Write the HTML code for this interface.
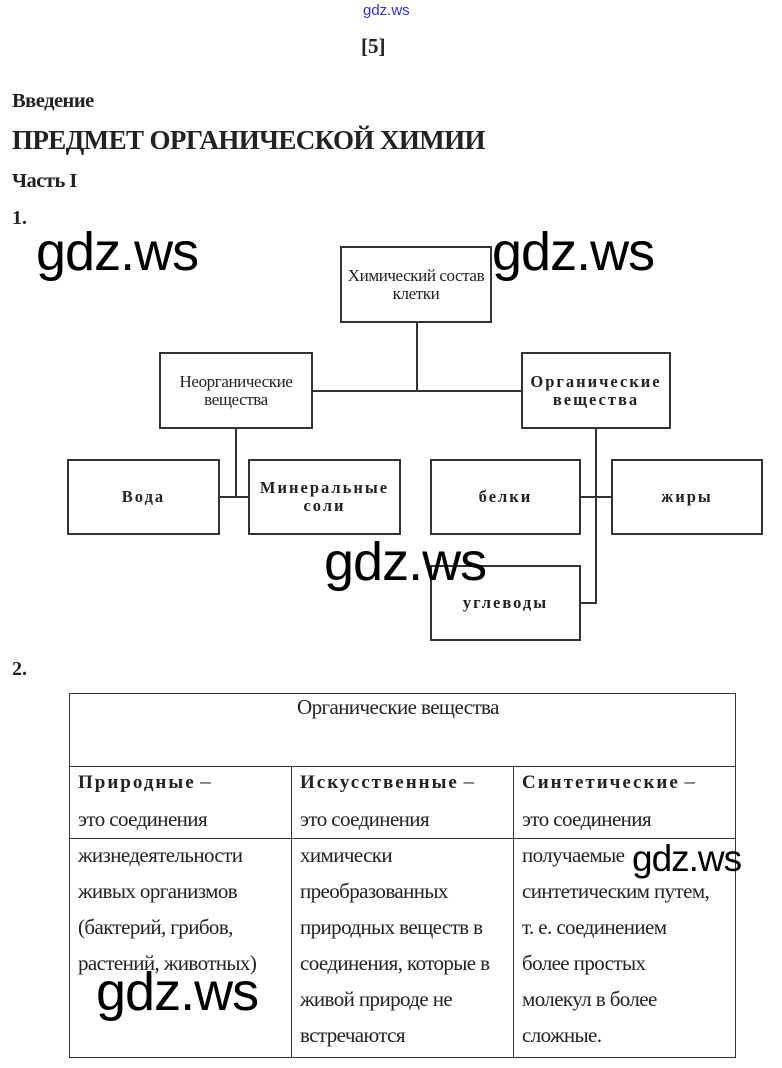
<!DOCTYPE html>
<html><head><meta charset="utf-8"><style>
body{margin:0;width:782px;height:1068px;background:#fff;position:relative;overflow:hidden;font-family:"Liberation Serif",serif;color:#222}
.a{position:absolute;white-space:nowrap}
.b{position:absolute;border:2px solid #333;box-sizing:border-box;display:flex;align-items:center;justify-content:center;text-align:center;font-size:17px;line-height:18px}
.sp{font-weight:bold;letter-spacing:2px;font-size:16.5px}
.l{position:absolute;background:#333}
.w{position:absolute;font-family:"Liberation Sans",sans-serif;font-size:54px;color:#000;line-height:1;letter-spacing:-1px}
.t{position:absolute;font-size:21px;line-height:36px;white-space:nowrap;letter-spacing:-0.6px}
</style></head><body>
<div class="a" style="left:363px;top:2px;font-family:'Liberation Sans',sans-serif;font-size:15px;color:#33c">gdz.ws</div>
<div class="a" style="left:361px;top:34px;font-size:21px;font-weight:bold">[5]</div>
<div class="a" style="left:12px;top:90px;font-size:20.5px;font-weight:bold;letter-spacing:-0.5px">Введение</div>
<div class="a" style="left:12px;top:125px;font-size:27px;font-weight:bold;letter-spacing:-0.6px">ПРЕДМЕТ ОРГАНИЧЕСКОЙ ХИМИИ</div>
<div class="a" style="left:12px;top:170px;font-size:20.5px;font-weight:bold;letter-spacing:-0.5px">Часть I</div>
<div class="a" style="left:12px;top:207px;font-size:20px;font-weight:bold">1.</div>

<div class="l" style="left:416px;top:322px;width:2px;height:70px"></div>
<div class="l" style="left:312px;top:390px;width:210px;height:2px"></div>
<div class="l" style="left:235px;top:428px;width:2px;height:70px"></div>
<div class="l" style="left:219px;top:496px;width:30px;height:2px"></div>
<div class="l" style="left:595px;top:428px;width:2px;height:176px"></div>
<div class="l" style="left:580px;top:496px;width:32px;height:2px"></div>
<div class="l" style="left:580px;top:602px;width:16px;height:2px"></div>

<div class="b" style="left:340px;top:246px;width:152px;height:77px;letter-spacing:-0.4px">Химический состав<br>клетки</div>
<div class="b" style="left:159px;top:352px;width:154px;height:77px;letter-spacing:-0.4px">Неорганические<br>вещества</div>
<div class="b sp" style="left:521px;top:352px;width:150px;height:77px">Органические<br>вещества</div>
<div class="b sp" style="left:67px;top:459px;width:153px;height:76px">Вода</div>
<div class="b sp" style="left:248px;top:459px;width:153px;height:76px">Минеральные<br>соли</div>
<div class="b sp" style="left:430px;top:459px;width:151px;height:76px">белки</div>
<div class="b sp" style="left:611px;top:459px;width:152px;height:76px">жиры</div>
<div class="b sp" style="left:430px;top:565px;width:151px;height:76px">углеводы</div>

<div class="a" style="left:12px;top:658px;font-size:20px;font-weight:bold">2.</div>
<div style="position:absolute;left:69px;top:693px;width:667px;height:365px;border:1px solid #333;box-sizing:border-box"></div>
<div class="l" style="left:69px;top:766px;width:667px;height:1px"></div>
<div class="l" style="left:69px;top:838px;width:667px;height:1px"></div>
<div class="l" style="left:291px;top:766px;width:1px;height:292px"></div>
<div class="l" style="left:513px;top:766px;width:1px;height:292px"></div>
<div class="t" style="left:297px;top:689px">Органические вещества</div>
<div class="t" style="left:78px;top:763px"><b style="letter-spacing:2px;font-size:19px">Природные</b> –<br>это соединения<br>жизнедеятельности<br>живых организмов<br>(бактерий, грибов,<br>растений, животных)</div>
<div class="t" style="left:300px;top:763px"><b style="letter-spacing:2px;font-size:19px">Искусственные</b> –<br>это соединения<br>химически<br>преобразованных<br>природных веществ в<br>соединения, которые в<br>живой природе не<br>встречаются</div>
<div class="t" style="left:522px;top:763px"><b style="letter-spacing:2px;font-size:19px">Синтетические</b> –<br>это соединения<br>получаемые<br>синтетическим путем,<br>т. е. соединением<br>более простых<br>молекул в более<br>сложные.</div>

<div class="w" style="left:36px;top:225px">gdz.ws</div>
<div class="w" style="left:492px;top:225px">gdz.ws</div>
<div class="w" style="left:324px;top:535px">gdz.ws</div>
<div class="w" style="left:96px;top:965px">gdz.ws</div>
<div class="w" style="left:632px;top:840px;font-size:37px">gdz.ws</div>
</body></html>
